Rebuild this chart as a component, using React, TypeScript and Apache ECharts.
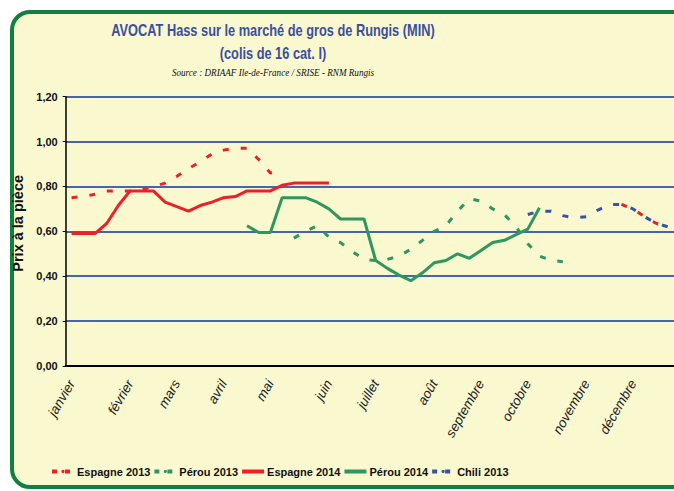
import React, { useEffect, useRef } from "react";
import * as echarts from "echarts";

// ---- data ----
const weeks: string[] = Array.from({ length: 52 }, (_, i) => String(i + 1));
const monthNames = ["janvier", "février", "mars", "avril", "mai", "juin", "juillet", "août", "septembre", "octobre", "novembre", "décembre"];
const monthWeeks = [0, 5, 9, 13, 17, 22, 26, 31, 35, 39, 44, 48];
const yTicks = [0, 0.2, 0.4, 0.6, 0.8, 1.0, 1.2];

const espagne2013Start = [0.75, 0.755, 0.765, 0.78, 0.78, 0.78, 0.785, 0.8, 0.815, 0.845, 0.88, 0.91, 0.945, 0.962, 0.97, 0.97, 0.92, 0.86, 0.87];
const espagne2013End = [0.72, 0.7, 0.665, 0.635, 0.62]; // weeks 47-51
const espagne2013EndWeek = 47;

const perou2013 = [0.57, 0.6, 0.625, 0.575, 0.55, 0.51, 0.475, 0.47, 0.475, 0.49, 0.52, 0.56, 0.6, 0.625, 0.69, 0.745, 0.735, 0.7, 0.675, 0.62, 0.545, 0.49, 0.47, 0.465];
const perou2013StartWeek = 19;

const espagne2014 = [0.59, 0.59, 0.59, 0.635, 0.715, 0.78, 0.78, 0.78, 0.73, 0.71, 0.69, 0.715, 0.73, 0.75, 0.755, 0.78, 0.78, 0.78, 0.805, 0.815, 0.815, 0.815, 0.815];
const espagne2014StartWeek = 0;

const perou2014 = [0.625, 0.595, 0.595, 0.75, 0.75, 0.75, 0.73, 0.7, 0.655, 0.655, 0.655, 0.47, 0.435, 0.405, 0.38, 0.415, 0.46, 0.47, 0.5, 0.48, 0.515, 0.55, 0.56, 0.585, 0.61, 0.705];
const perou2014StartWeek = 15;

const chili2013 = [0.675, 0.69, 0.69, 0.67, 0.66, 0.665, 0.695, 0.72, 0.72, 0.7, 0.665, 0.635, 0.62];
const chili2013StartWeek = 39;

function place(parts: { start: number; values: number[] }[]): (number | null)[] {
  const out: (number | null)[] = weeks.map(() => null);
  parts.forEach((p) => p.values.forEach((v, i) => (out[p.start + i] = v)));
  return out;
}

const RED = "#EE2027";
const GREEN = "#2E9660";
const BLUE = "#3A52A3";
const GRID_BLUE = "#4565B0";
const SANS = "'Liberation Sans', Arial, sans-serif";

export default function App() {
  const ref = useRef<HTMLDivElement>(null);
  useEffect(() => {
    document.body.style.margin = "0";
    const chart = echarts.init(ref.current!, null, { renderer: "svg" });
    const dashed = [6, 12];
    const mk = (name: string, data: (number | null)[], color: string, type: any) => ({
      name,
      type: "line",
      data,
      showSymbol: false,
      symbol: "none",
      connectNulls: false,
      lineStyle: { color, width: 3, type },
      itemStyle: { color },
    });
    chart.setOption({
      animation: false,
      graphic: [
        {
          type: "rect",
          z: -100,
          silent: true,
          shape: { x: 12, y: 12, width: 720, height: 475, r: 18 },
          style: { fill: "#FAF8CF", stroke: "#11803F", lineWidth: 4 },
        },
        {
          type: "text",
          x: 273,
          y: 30,
          scaleX: 0.8,
          style: { text: "AVOCAT Hass sur le marché de gros de Rungis (MIN)", fill: "#3A4FA0", font: "bold 16px " + SANS, align: "center", verticalAlign: "middle" },
        },
        {
          type: "text",
          x: 273,
          y: 53,
          scaleX: 0.8,
          style: { text: "(colis de 16 cat. I)", fill: "#3A4FA0", font: "bold 16px " + SANS, align: "center", verticalAlign: "middle" },
        },
        {
          type: "text",
          x: 273,
          y: 72,
          scaleX: 0.83,
          style: { text: "Source : DRIAAF Ile-de-France / SRISE - RNM Rungis", fill: "#111", font: "italic 11px 'Liberation Serif', 'Times New Roman', serif", align: "center", verticalAlign: "middle" },
        },
      ],
      legend: {
        left: 45,
        top: 461,
        itemWidth: 22,
        itemHeight: 4,
        itemGap: 2,
        textStyle: { fontFamily: SANS, fontWeight: "bold", fontSize: 11, color: "#111", padding: [0, 0, 0, -2] },
        data: [
          { name: "Espagne 2013", lineStyle: { type: [5, 8], width: 4 } },
          { name: "Pérou 2013", lineStyle: { type: [5, 8], width: 4 } },
          { name: "Espagne 2014", lineStyle: { width: 4 } },
          { name: "Pérou 2014", lineStyle: { width: 4 } },
          { name: "Chili 2013", lineStyle: { type: [5, 8], width: 4 } },
        ],
      },
      grid: { left: 65.7, right: 0, top: 96.7, bottom: 125, containLabel: false, outerBoundsMode: "none" },
      xAxis: {
        type: "category",
        data: weeks,
        boundaryGap: true,
        axisLine: { lineStyle: { color: "#000", width: 2 } },
        axisTick: { show: false },
        axisLabel: {
          interval: 0,
          rotate: 60,
          margin: 15,
          fontSize: 13.5,
          fontStyle: "italic",
          fontFamily: SANS,
          color: "#222",
          formatter: (_v: string, idx: number) => {
            const k = monthWeeks.indexOf(idx);
            return k >= 0 ? monthNames[k] : "";
          },
        },
        splitLine: { show: false },
      },
      yAxis: {
        type: "value",
        min: yTicks[0],
        max: yTicks[yTicks.length - 1],
        interval: 0.2,
        name: "Prix à la pièce",
        nameLocation: "middle",
        nameGap: 31,
        nameRotate: 90,
        nameTextStyle: { fontWeight: "bold", fontSize: 14.5, color: "#111", fontFamily: SANS, padding: [0, 0, 0, 16] },
        axisLine: { show: true, lineStyle: { color: "#000", width: 1.5 } },
        axisTick: { show: true, length: 3, lineStyle: { color: "#000" } },
        axisLabel: {
          fontWeight: "bold",
          fontSize: 11,
          color: "#111",
          margin: 8,
          fontFamily: SANS,
          formatter: (v: number) => v.toFixed(2).replace(".", ","),
        },
        splitLine: { show: true, lineStyle: { color: GRID_BLUE, width: 2 } },
      },
      series: [
        mk("Espagne 2013", place([{ start: 0, values: espagne2013Start }, { start: espagne2013EndWeek, values: espagne2013End }]), RED, dashed),
        mk("Pérou 2013", place([{ start: perou2013StartWeek, values: perou2013 }]), GREEN, dashed),
        mk("Espagne 2014", place([{ start: espagne2014StartWeek, values: espagne2014 }]), RED, "solid"),
        mk("Pérou 2014", place([{ start: perou2014StartWeek, values: perou2014 }]), GREEN, "solid"),
        mk("Chili 2013", place([{ start: chili2013StartWeek, values: chili2013 }]), BLUE, dashed),
      ],
    });
    return () => chart.dispose();
  }, []);
  return <div ref={ref} style={{ width: 674, height: 491, background: "#fff" }} />;
}
